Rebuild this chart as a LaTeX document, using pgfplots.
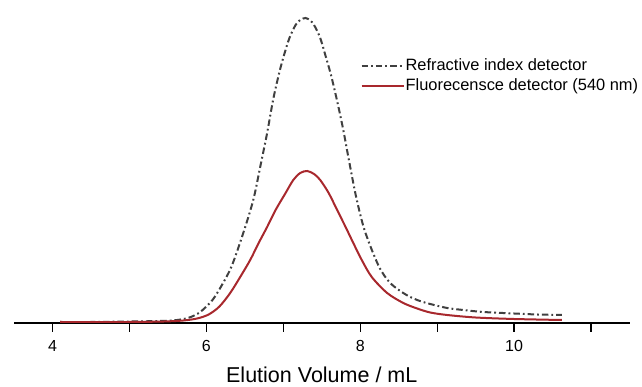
\documentclass[border=0pt]{standalone}
\usepackage{pgfplots}
\pgfplotsset{compat=1.18}
\usepackage{fontspec}
\setmainfont{Liberation Sans}
\definecolor{ri}{RGB}{64,64,64}
\definecolor{fl}{RGB}{168,40,45}
\begin{document}
\begin{tikzpicture}
\path[use as bounding box] (0,0) rectangle (642pt,387pt);
\begin{axis}[
  at={(14pt,64pt)}, anchor=south west,
  scale only axis, width=615.5pt, height=318pt,
  xmin=3.5, xmax=11.5, ymin=0, ymax=318,
  axis x line*=bottom, axis y line=none,
  axis line style={line width=1.8pt, black, -},
  xtick={4,6,8,10}, minor xtick={5,7,9,11},
  xtick align=outside,
  major tick length=9pt, minor tick length=9pt,
  tick style={line width=1.2pt, black},
  minor tick style={line width=1.2pt, black},
  /pgf/number format/assume math mode=true,
  ticklabel style={font=\fontsize{16}{19}\selectfont},
  xticklabel style={anchor=base, yshift=-20pt},
  xlabel={Elution Volume / mL},
  xlabel style={font=\fontsize{21.5}{25}\selectfont, at={(axis description cs:0.5,0)}, anchor=base, yshift=-60pt},
  legend style={draw=none, fill=none, at={(rel axis cs:0.558,0.84)}, anchor=north west,
    font=\fontsize{16.4}{19}\selectfont, nodes={inner sep=1pt}, row sep=4.5pt},
  legend cell align=left,
  legend image code/.code={\draw[#1] (0pt,0pt) -- (42pt,0pt);},
]
\addplot[ri, line width=2pt, smooth, dash pattern=on 6.5pt off 3pt on 1.8pt off 3pt] coordinates {
(4.1,1) (4.5,1) (5.0,1.5) (5.4,2) (5.62,3) (5.78,5.5) (5.92,11) (6.08,23) (6.21,39) (6.33,57)
(6.48,90) (6.61,123) (6.70,156) (6.79,190) (6.87,224) (6.95,251) (7.01,268) (7.08,285)
(7.16,298) (7.22,303) (7.29,305) (7.35,302.5) (7.40,298) (7.48,285) (7.55,267) (7.62,248)
(7.70,222) (7.78,193) (7.86,160) (7.95,125) (8.06,92) (8.24,57) (8.39,40) (8.58,29)
(8.74,23) (8.91,19) (9.13,15) (9.34,13) (9.6,11) (10.0,9.5) (10.3,8.5) (10.62,8)
};
\addlegendentry{Refractive index detector}
\addplot[fl, line width=2pt, smooth] coordinates {
(4.1,1) (5.0,1) (5.45,1.5) (5.7,2.5) (5.88,4.5) (6.03,8.5) (6.17,16.5) (6.31,30) (6.44,46) (6.57,63)
(6.68,80) (6.79,96) (6.90,113) (7.03,130) (7.13,143) (7.22,150) (7.31,152) (7.40,149)
(7.48,143) (7.59,130) (7.70,113) (7.81,96) (7.91,80) (8.02,63) (8.15,46) (8.35,30)
(8.56,20) (8.74,14.5) (8.91,10.5) (9.13,8) (9.5,5.5) (10.0,4) (10.62,3)
};
\addlegendentry{Fluorecensce detector (540 nm)}
\end{axis}
\end{tikzpicture}
\end{document}
